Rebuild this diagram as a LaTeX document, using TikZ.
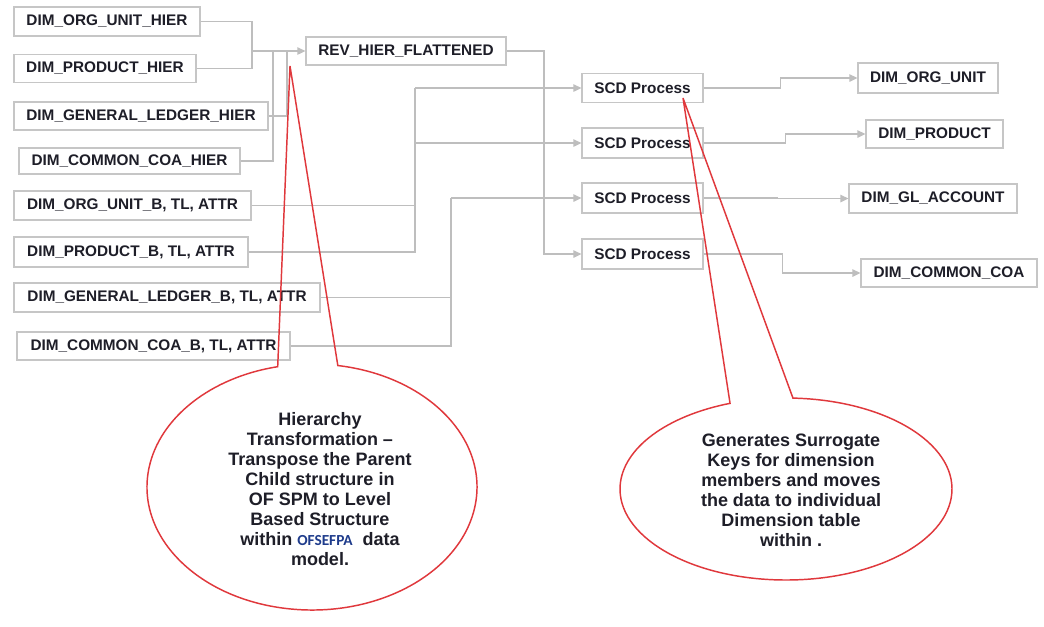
\documentclass[tikz,border=0pt]{standalone}
\usepackage{fontspec}
\setmainfont{Liberation Sans}
\newfontfamily\calfont{Carlito}
\usetikzlibrary{arrows.meta,calc}

\definecolor{boxline}{HTML}{C6C6C6}
\definecolor{wirecol}{HTML}{BEBEBE}
\definecolor{ink}{HTML}{1E1E28}
\definecolor{callred}{HTML}{E0383C}
\definecolor{navy}{HTML}{1F3C8C}

\begin{document}
\begin{tikzpicture}[x=0.75pt,y=-0.75pt,
  tbl/.style={draw=boxline, line width=0.9pt, fill=white, text=ink,
    font=\bfseries\fontsize{11.5}{13}\selectfont, inner sep=0pt},
  sz/.style 2 args={minimum width=#1*0.75pt, minimum height=#2*0.75pt},
  wire/.style={draw=wirecol, line width=1.2pt},
  flow/.style={wire, -{Triangle[length=6pt,width=5.5pt]}},
  callout/.style={draw=callred, line width=1.1pt},
  note/.style={align=center, text=ink, font=\bfseries\fontsize{13.5}{15}\selectfont}]

\fill[white] (0,0) rectangle (1044,626);
\useasboundingbox (0,0) rectangle (1044,626);

% source tables
\node[tbl, sz={186}{29}] (L1) at (107,21.5) {DIM\_ORG\_UNIT\_HIER};
\node[tbl, sz={182}{28}] (L2) at (105,68.5) {DIM\_PRODUCT\_HIER};
\node[tbl, sz={254}{28}] (L3) at (141,116) {DIM\_GENERAL\_LEDGER\_HIER};
\node[tbl, sz={221}{26}] (L4) at (129.5,161) {DIM\_COMMON\_COA\_HIER};
\node[tbl, sz={237}{29}] (L5) at (132.5,205.5) {DIM\_ORG\_UNIT\_B, TL, ATTR};
\node[tbl, sz={234}{30}] (L6) at (131,252) {DIM\_PRODUCT\_B, TL, ATTR};
\node[tbl, sz={306}{29}] (L7) at (167,297.5) {DIM\_GENERAL\_LEDGER\_B, TL, ATTR};
\node[tbl, sz={273}{28}] (L8) at (153.5,346) {DIM\_COMMON\_COA\_B, TL, ATTR};

% flattened hierarchy
\node[tbl, sz={200}{28}] (rev) at (406,51) {REV\_HIER\_FLATTENED};

% SCD processes
\node[tbl, sz={121}{29}] (s1) at (642.5,88) {SCD Process};
\node[tbl, sz={121}{30}] (s2) at (642.5,143) {SCD Process};
\node[tbl, sz={121}{30}] (s3) at (642.5,198) {SCD Process};
\node[tbl, sz={121}{30}] (s4) at (642.5,254) {SCD Process};

% target dimensions
\node[tbl, sz={140}{30}] (r1) at (928,78) {DIM\_ORG\_UNIT};
\node[tbl, sz={137}{28}] (r2) at (934.5,134) {DIM\_PRODUCT};
\node[tbl, sz={168}{29}] (r3) at (933,198.5) {DIM\_GL\_ACCOUNT};
\node[tbl, sz={176}{28}] (r4) at (949,273) {DIM\_COMMON\_COA};

% junction points of the merging lines
\coordinate (jA) at (252,51);
\coordinate (jB) at (273,51);
\coordinate (jC) at (287,51);
\coordinate (jD) at (544,254);
\coordinate (jE) at (415,88);
\coordinate (jF) at (415,143);
\coordinate (jG) at (451,198);

% hierarchy tables into the flattened table
\draw[wire] (L1.east) -| (jA);
\draw[wire] (L2.east) -| (jA);
\draw[wire] (L3.east) -| (jC);
\draw[wire] (L4.east) -| (jB);
\draw[flow] (jA) -- (rev.west);

% into the SCD processes
\draw[flow] (rev.east) -| (jD) -- (s4.west);
\draw[wire] (L5.east) -| (jE);
\draw[wire] (L6.east) -| (jE);
\draw[flow] (jE) -- (s1.west);
\draw[flow] (jF) -- (s2.west);
\draw[wire] (L7.east) -| (jG);
\draw[wire] (L8.east) -| (jG);
\draw[flow] (jG) -- (s3.west);

% SCD processes to the dimension tables
\draw[flow] (s1.east) -- ++(77,0) |- (r1.west);
\draw[flow] (s2.east) -- ++(82,0) |- (r2.west);
\draw[flow] (s3.east) -- ++(74,0) |- (r3.west);
\draw[flow] (s4.east) -- ++(79,0) |- (r4.west);

% callout bubbles
\coordinate (cL) at (312,487);
\coordinate (tipL) at (290,66);
\draw[callout] (tipL) -- ($(cL)+(-81:165 and 123)$)
  arc[start angle=-81, end angle=258, x radius=165, y radius=123] -- cycle;

\coordinate (cR) at (786,489);
\coordinate (tipR) at (683,98);
\draw[callout] (tipR) -- ($(cR)+(-87.6:166 and 91)$)
  arc[start angle=-87.6, end angle=250.3, x radius=166, y radius=91] -- cycle;

\node[note] (noteL) at (320,489) {Hierarchy\\Transformation --\\Transpose the Parent\\Child structure in\\OF SPM to Level\\Based Structure\\within {\calfont\bfseries\color{navy}\fontsize{11.5}{15}\selectfont OFSEFPA}\ \ data\\model.};

\node[note] (noteR) at (791,490) {Generates Surrogate\\Keys for dimension\\members and moves\\the data to individual\\Dimension table\\within .};

\end{tikzpicture}
\end{document}
